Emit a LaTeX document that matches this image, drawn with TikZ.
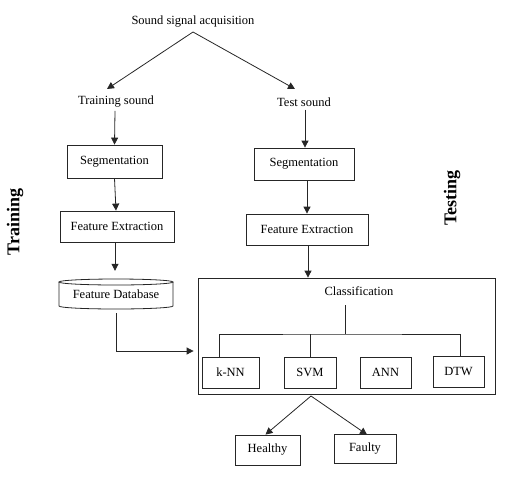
\documentclass[tikz,border=0pt]{standalone}
\usepackage{fontspec}
\setmainfont{Liberation Serif}
\usetikzlibrary{arrows.meta,calc}
\begin{document}
\begin{tikzpicture}[x=1pt,y=-1pt,
  line/.style={draw=black!85,line width=0.8pt},
  arr/.style={line,-{Triangle[length=7pt,width=7pt]}},
  box/.style={line,rectangle,inner sep=0pt,font=\fontsize{12.5}{15}\selectfont},
  txt/.style={inner sep=0pt,font=\fontsize{12.5}{15}\selectfont},
  side/.style={inner sep=0pt,rotate=90,font=\fontsize{18}{21}\selectfont\bfseries}]
\useasboundingbox (0,0) rectangle (513,480);
% top
\node[txt] (acq) at (193,22) {Sound signal acquisition};
\node[txt] (train) at (116,102) {Training sound};
\node[txt] (test) at (304,102) {Test sound};
\coordinate (apex) at (193,32);
\coordinate (tl) at (107,89);
\coordinate (tr) at (295,89);
\draw[arr] (apex) -- (tl);
\draw[arr] (apex) -- (tr);
% left column
\node[box,minimum width=95pt,minimum height=33pt] (segL) at (114.5,161.5) {Segmentation};
\node[box,minimum width=114pt,minimum height=31pt] (feL) at (117,226.5) {Feature Extraction};
\node[txt,minimum width=114pt,minimum height=26pt] (fdb) at (116,294) {Feature Database};
\draw[line] (59,282) -- (59,306) arc[start angle=180,end angle=360,x radius=57pt,y radius=3pt] -- (173,282);
\draw[line] (116,282) ellipse [x radius=57pt,y radius=3pt];
% right column
\node[box,minimum width=100pt,minimum height=32pt] (segR) at (304,164) {Segmentation};
\node[box,minimum width=122pt,minimum height=31pt] (feR) at (307,229.5) {Feature Extraction};
\node[box,minimum width=297pt,minimum height=116pt] (class) at (346.5,336) {};
\node[txt] (clst) at (359,291) {Classification};
% arrows down
\draw[arr] ($(train.south)+(-1,3)$) -- (segL.north);
\draw[arr] (segL.south) -- ($(feL.north)+(-1,0)$);
\draw[arr] ($(feL.south)+(-2,0)$) -- ($(fdb.north)+(-1,-10)$);
\draw[arr] ($(test.south)+(1,3)$) -- ($(segR.north)+(1,0)$);
\draw[arr] ($(segR.south)+(3,0)$) -- (feR.north);
\draw[arr] ($(feR.south)+(1,0)$) -- ($(class.north)+(-38.5,0)$);
\draw[arr] ($(fdb.south)+(0,6)$) |- ($(class.west)+(-4,15)$);
% classifiers
\node[box,minimum width=57pt,minimum height=31pt] (knn) at (230.5,372.5) {k-NN};
\node[box,minimum width=52pt,minimum height=31pt] (svm) at (310,372.5) {SVM};
\node[box,minimum width=51pt,minimum height=31pt] (ann) at (385.5,372.5) {ANN};
\node[box,minimum width=51pt,minimum height=31pt] (dtw) at (458.5,371.5) {DTW};
\coordinate (hubtop) at (345,305);
\coordinate (hub) at (345,334);
\draw[line] (hubtop) -- (hub);
\draw[line] ($(knn.north)+(-11,0)$) |- (hub) -| ($(dtw.north)+(1.5,0)$);
\draw[line] (svm.north) -- (svm.north |- hub);
\draw[line] ($(ann.north)+(3.5,0)$) -- ($(ann.north)+(3.5,0)$ |- hub);
% outputs
\node[box,minimum width=65pt,minimum height=30pt] (healthy) at (267.5,450) {Healthy};
\node[box,minimum width=62pt,minimum height=29pt] (faulty) at (365,448.5) {Faulty};
\coordinate (split) at (311,396);
\draw[arr] (split) -- ($(healthy.north)+(-2,0)$);
\draw[arr] (split) -- ($(faulty.north)+(2,1)$);
% side labels
\node[side] (trlab) at (15,222) {Training};
\node[side] (telab) at (452,198) {Testing};
\end{tikzpicture}
\end{document}
